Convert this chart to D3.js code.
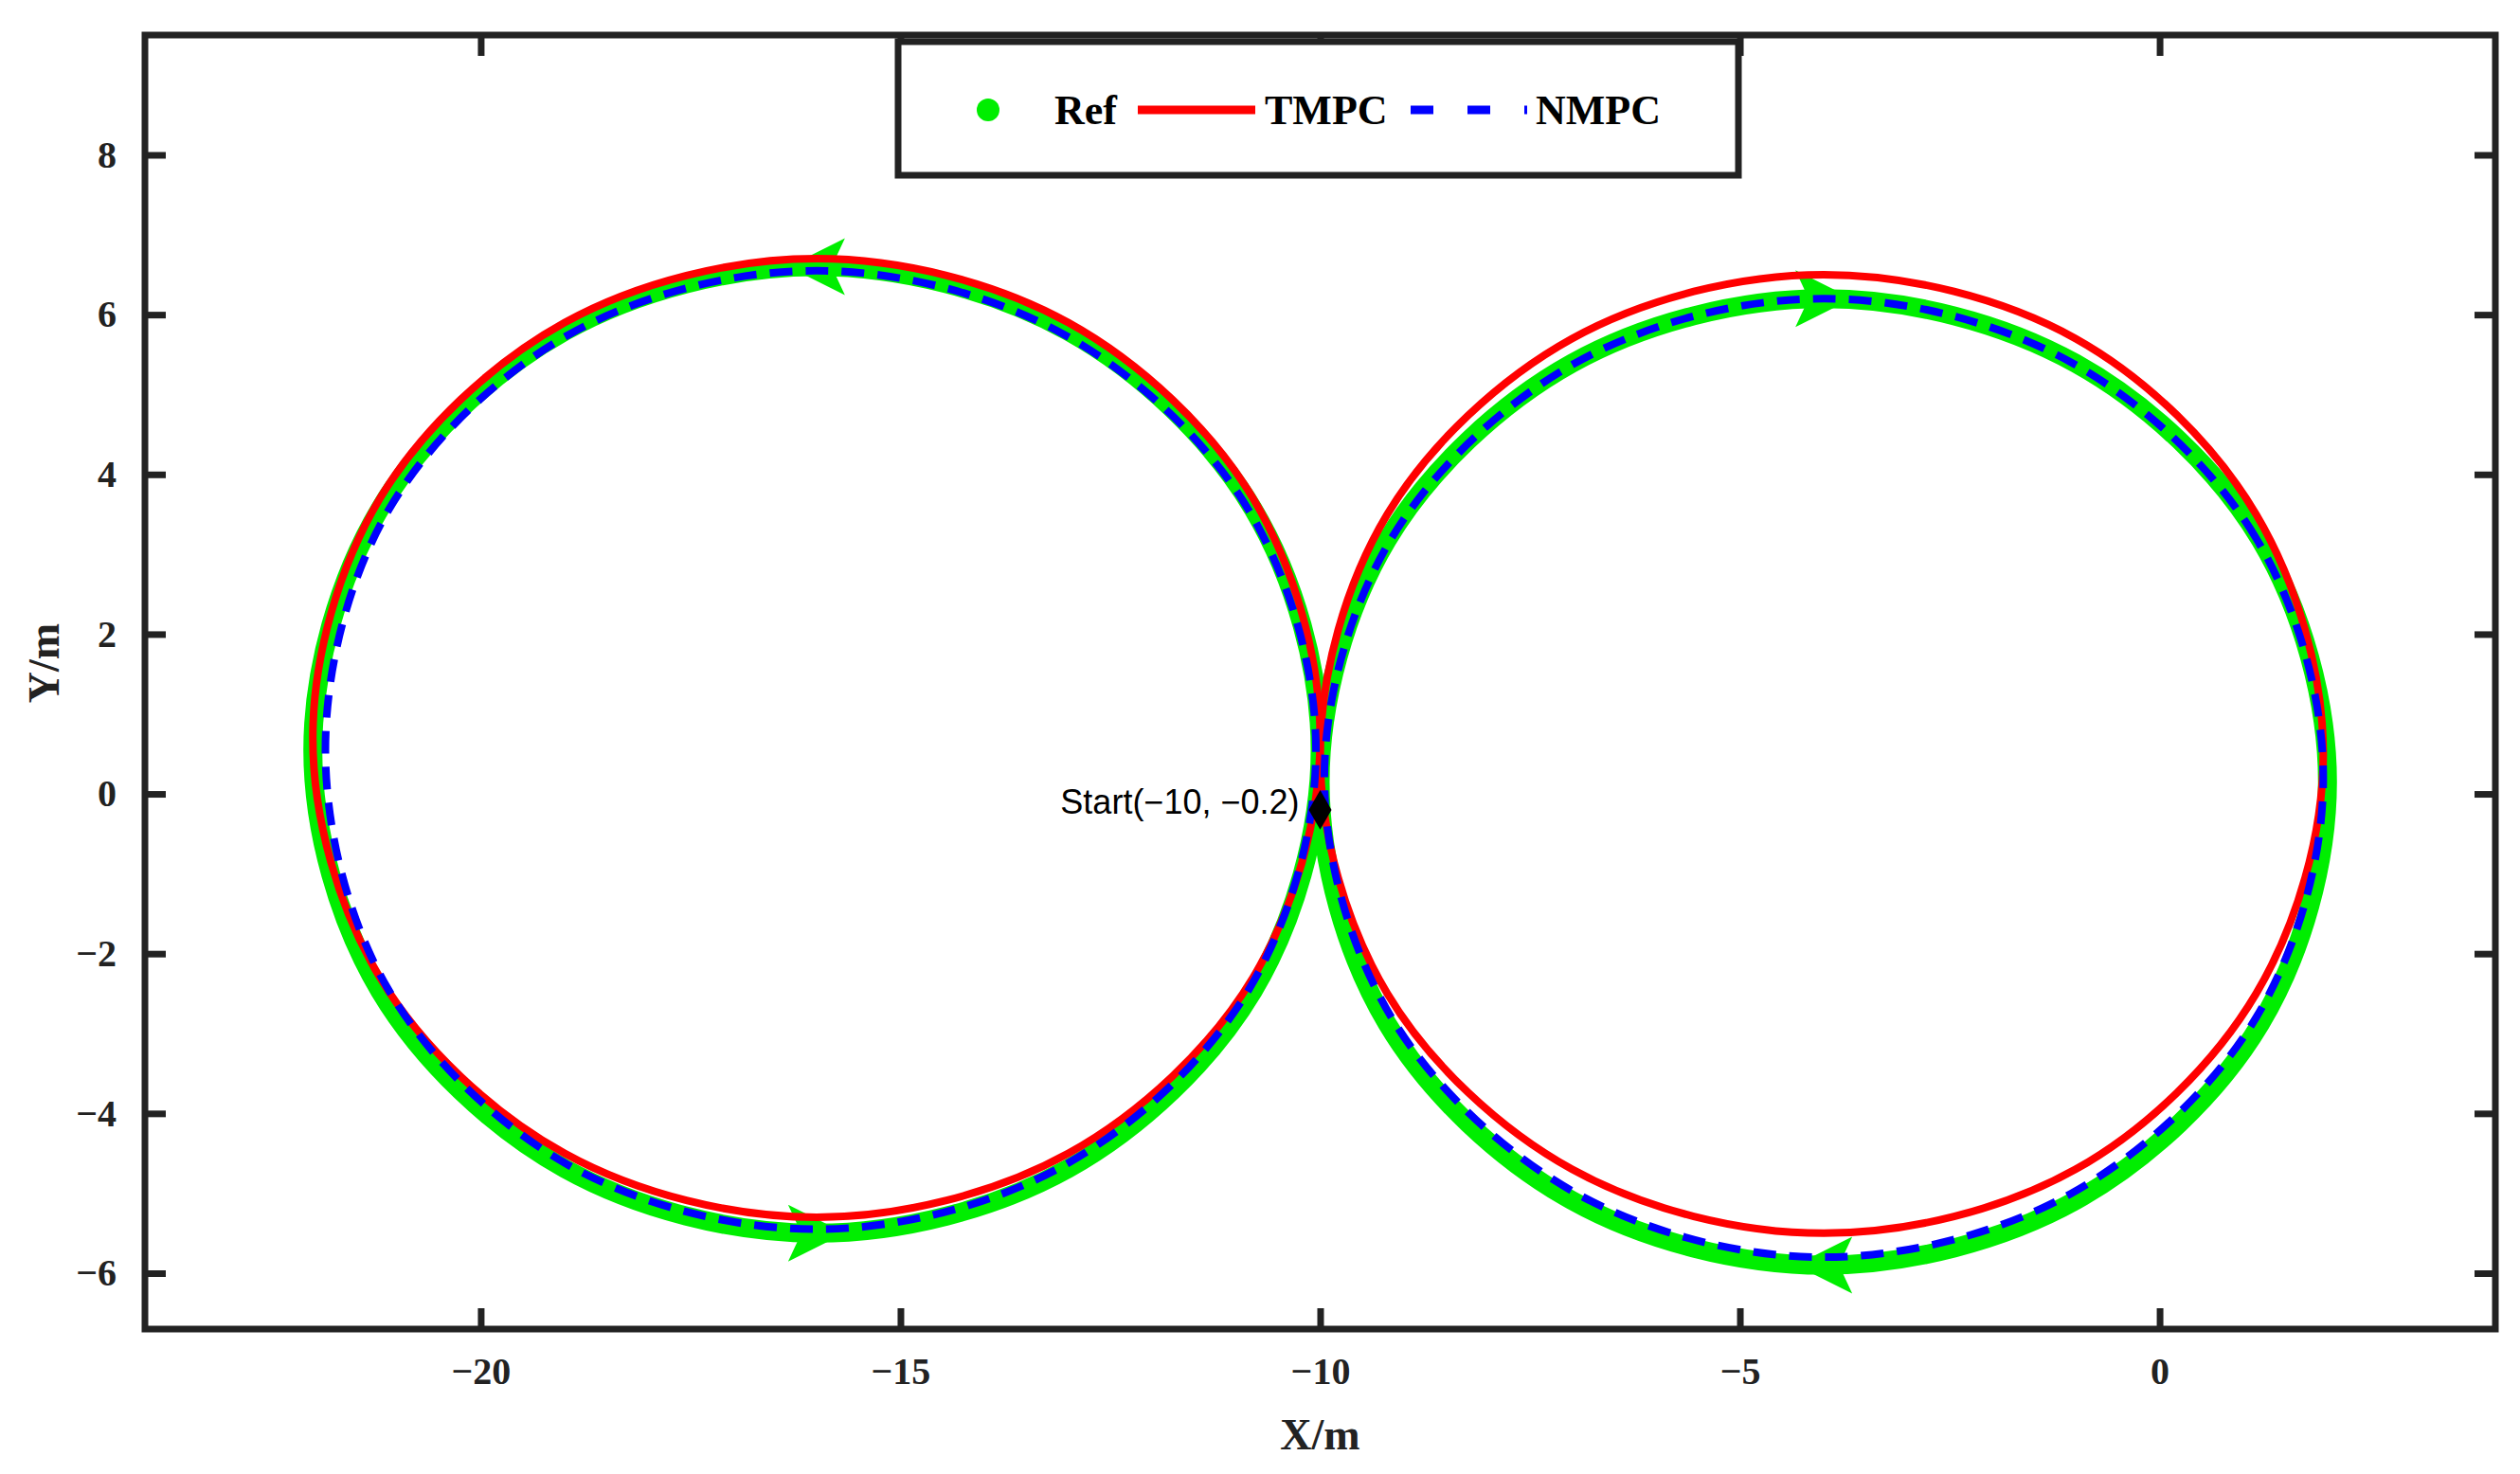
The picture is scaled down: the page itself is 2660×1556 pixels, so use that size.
<!DOCTYPE html>
<html><head><meta charset="utf-8">
<script src="https://cdn.jsdelivr.net/npm/d3@7"></script>
<style>body{margin:0;background:#fff}</style></head>
<body><svg id="c" width="2660" height="1556"></svg>
<script>
const xTicks=[-20,-15,-10,-5,0];
const yTicks=[-6,-4,-2,0,2,4,6,8];
const refLeft=[[-10,0.55],[-10.8,3.57],[-13,5.79],[-16,6.6],[-19,5.79],[-21.2,3.57],[-22,0.55],[-21.2,-2.47],[-19,-4.69],[-16,-5.5],[-13,-4.69],[-10.8,-2.47]];
const refRight=[[2,0.15],[1.2,3.18],[-1,5.39],[-4,6.2],[-7,5.39],[-9.2,3.18],[-10,0.15],[-9.2,-2.88],[-7,-5.09],[-4,-5.9],[-1,-5.09],[1.2,-2.88]];
const tmpcLeft=[[-10,0.7],[-10.8,3.7],[-13,5.9],[-16,6.7],[-19,5.9],[-21.2,3.7],[-22,0.7],[-21.2,-2.3],[-19,-4.5],[-16,-5.3],[-13,-4.5],[-10.8,-2.3]];
const tmpcRight=[[1.95,0.5],[1.15,3.5],[-1,5.7],[-4,6.5],[-7,5.7],[-9.2,3.5],[-10,0.5],[-9.2,-2.5],[-7,-4.7],[-4,-5.5],[-1,-4.7],[1.15,-2.5]];
const nmpcLeft=[[-10.05,0.55],[-10.85,3.55],[-13.05,5.75],[-16,6.55],[-18.95,5.75],[-21.1,3.55],[-21.85,0.55],[-21.1,-2.45],[-18.95,-4.65],[-16,-5.45],[-13.05,-4.65],[-10.85,-2.45]];
const nmpcRight=[[1.95,0.2],[1.15,3.2],[-1.05,5.4],[-4,6.2],[-6.95,5.4],[-9.15,3.2],[-9.95,0.2],[-9.15,-2.8],[-6.95,-5.0],[-4,-5.8],[-1.05,-5.0],[1.15,-2.8]];
const arrows=[[-16,6.6,180],[-4,6.2,0],[-16,-5.5,0],[-4,-5.9,180]];
const start=[-10,-0.2];

const svg=d3.select("#c");
const L=153,R=2634,T=37,B=1403;
const x=d3.scaleLinear().domain([-24,4]).range([L,R]);
const y=d3.scaleLinear().domain([-6.7,9.5]).range([B,T]);
const serif="'Liberation Serif','Times New Roman',serif";
const line=d3.line().x(d=>x(d[0])).y(d=>y(d[1])).curve(d3.curveCatmullRomClosed);
const g=svg.append("g");
[refLeft,refRight].forEach(d=>g.append("path").attr("d",line(d)).attr("fill","none").attr("stroke","#00ee00").attr("stroke-width",20));
arrows.forEach(a=>g.append("path").attr("d","M30,0 L-30,-30 L-16,0 L-30,30 Z").attr("fill","#00ee00")
  .attr("transform",`translate(${x(a[0])},${y(a[1])}) rotate(${a[2]})`));
[tmpcLeft,tmpcRight].forEach(d=>g.append("path").attr("d",line(d)).attr("fill","none").attr("stroke","#ff0000").attr("stroke-width",8));
[nmpcLeft,nmpcRight].forEach(d=>g.append("path").attr("d",line(d)).attr("fill","none").attr("stroke","#0000ff").attr("stroke-width",8).attr("stroke-dasharray","24,14"));
g.append("path").attr("d",d3.symbol(d3.symbolDiamond,500)()).attr("transform",`translate(${x(start[0])},${y(start[1])})`).attr("fill","#000");
g.append("text").attr("x",x(start[0])-22).attr("y",y(start[1])+4).attr("text-anchor","end").attr("font-family","'Liberation Sans',Arial,sans-serif").attr("font-size",36).text("Start(−10, −0.2)");

// axes
const ax=svg.append("g").attr("font-family",serif).attr("font-weight","bold").attr("font-size",40).attr("fill","#222");
const axB=d3.axisBottom(x).tickValues(xTicks).tickSize(-22).tickPadding(30).tickFormat(d=>d<0?"−"+(-d):d);
const axT=d3.axisTop(x).tickValues(xTicks).tickSize(-22).tickFormat("");
const axL=d3.axisLeft(y).tickValues(yTicks).tickSize(-22).tickPadding(30).tickFormat(d=>d<0?"−"+(-d):d);
const axR=d3.axisRight(y).tickValues(yTicks).tickSize(-22).tickFormat("");
[[axB,`translate(0,${B})`],[axT,`translate(0,${T})`],[axL,`translate(${L},0)`],[axR,`translate(${R},0)`]].forEach(([a,t])=>{
  const gg=svg.append("g").attr("transform",t).call(a);
  gg.select(".domain").remove();
  gg.selectAll(".tick line").attr("stroke","#222").attr("stroke-width",7);
  gg.selectAll("text").attr("font-family",serif).attr("font-weight","bold").attr("font-size",40).attr("fill","#222");
});
svg.append("rect").attr("x",L).attr("y",T).attr("width",R-L).attr("height",B-T).attr("fill","none").attr("stroke","#222").attr("stroke-width",7);
svg.append("text").attr("x",(L+R)/2).attr("y",1530).attr("text-anchor","middle").attr("font-family",serif).attr("font-weight","bold").attr("font-size",46).attr("fill","#222").text("X/m");
svg.append("text").attr("transform",`translate(62,${(T+B)/2-20}) rotate(-90)`).attr("text-anchor","middle").attr("font-family",serif).attr("font-weight","bold").attr("font-size",46).attr("fill","#222").text("Y/m");

// legend
const lg=svg.append("g");
lg.append("rect").attr("x",948).attr("y",44).attr("width",887).attr("height",141).attr("fill","#fff").attr("stroke","#222").attr("stroke-width",7);
lg.append("circle").attr("cx",1043).attr("cy",116).attr("r",12).attr("fill","#00ee00");
lg.append("line").attr("x1",1201).attr("x2",1325).attr("y1",116).attr("y2",116).attr("stroke","#ff0000").attr("stroke-width",9);
lg.append("line").attr("x1",1489).attr("x2",1612).attr("y1",116).attr("y2",116).attr("stroke","#0000ff").attr("stroke-width",9).attr("stroke-dasharray","24,36");
[["Ref",1113],["TMPC",1335],["NMPC",1621]].forEach(([t,xx])=>lg.append("text").attr("x",xx).attr("y",131).attr("font-family",serif).attr("font-weight","bold").attr("font-size",44).attr("fill","#000").text(t));
</script></body></html>
